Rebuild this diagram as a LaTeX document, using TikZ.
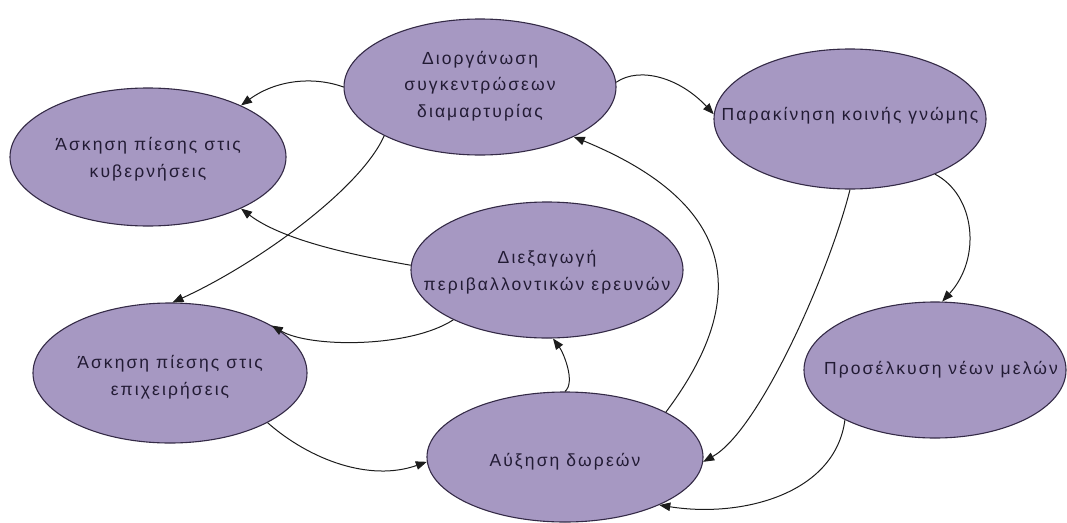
\documentclass[tikz,border=0pt]{standalone}
\usepackage{fontspec}
\newfontfamily\lbl[LetterSpace=12]{Liberation Sans}
\usetikzlibrary{shapes.geometric,arrows.meta}
\definecolor{bubble}{RGB}{166,152,194}
\definecolor{rim}{RGB}{52,42,70}
\definecolor{ink}{RGB}{34,27,52}
\definecolor{wire}{RGB}{28,28,28}
\tikzset{
  bubble/.style={ellipse, draw=rim, line width=1.1pt, fill=bubble, inner sep=0pt},
  caption/.style={align=center, text=ink, inner sep=0pt,
    font=\lbl\fontsize{17.5pt}{26.5pt}\selectfont},
  link/.style={draw=wire, line width=1pt, -{Triangle[length=11pt,width=8.5pt]}}
}
\begin{document}
\begin{tikzpicture}[x=1pt,y=-1pt]
\useasboundingbox (0,0) rectangle (1067,522);

% ellipses
\node[bubble, minimum width=272pt, minimum height=136pt] (dior)  at (480,87)  {};
\node[bubble, minimum width=276pt, minimum height=138pt] (kyv)   at (148,157) {};
\node[bubble, minimum width=272pt, minimum height=140pt] (parak) at (850,119) {};
\node[bubble, minimum width=272pt, minimum height=136pt] (diex)  at (547,270) {};
\node[bubble, minimum width=274pt, minimum height=140pt] (epix)  at (170,373) {};
\node[bubble, minimum width=276pt, minimum height=130pt] (afx)   at (565,457) {};
\node[bubble, minimum width=262pt, minimum height=136pt] (pros)  at (935,370) {};

% labels
\node[caption] (dior-t)  at (480,86)  {Διοργάνωση\\συγκεντρώσεων\\διαμαρτυρίας};
\node[caption] (kyv-t)   at (148,159) {Άσκηση πίεσης στις\\κυβερνήσεις};
\node[caption] (parak-t) at (850,116) {Παρακίνηση κοινής γνώμης};
\node[caption] (diex-t)  at (547,272) {Διεξαγωγή\\περιβαλλοντικών ερευνών};
\node[caption] (epix-t)  at (170,377) {Άσκηση πίεσης στις\\επιχειρήσεις};
\node[caption] (afx-t)   at (565,462) {Αύξηση δωρεών};
\node[caption] (pros-t)  at (941,370) {Προσέλκυση νέων μελών};

% connectors
\draw[link] (dior.180) .. controls (313,76) and (276,80) .. (kyv.29);
\draw[link] (dior.207) .. controls (360,190) and (255,265) .. (epix.88);
\draw[link] (diex.178) .. controls (370,258) and (286,243) .. (kyv.-29);
\draw[link] (diex.208) .. controls (410,348) and (310,348) .. (epix.25);
\draw[link] (epix.-27) .. controls (310,460) and (370,482) .. (afx.182);
\draw[link] (afx.90) .. controls (576,382) and (563,352) .. (diex.-85);
\draw[link] (afx.24) .. controls (750,300) and (740,205) .. (dior.-28);
\draw[link] (dior.2) .. controls (640,66) and (680,78) .. (parak.178);
\draw[link] (parak.-90) .. controls (830,270) and (760,430) .. (afx.-2);
\draw[link] (parak.-33) .. controls (975,195) and (982,258) .. (pros.84);
\draw[link] (pros.209) .. controls (835,495) and (740,518) .. (afx.-27);
\end{tikzpicture}
\end{document}
